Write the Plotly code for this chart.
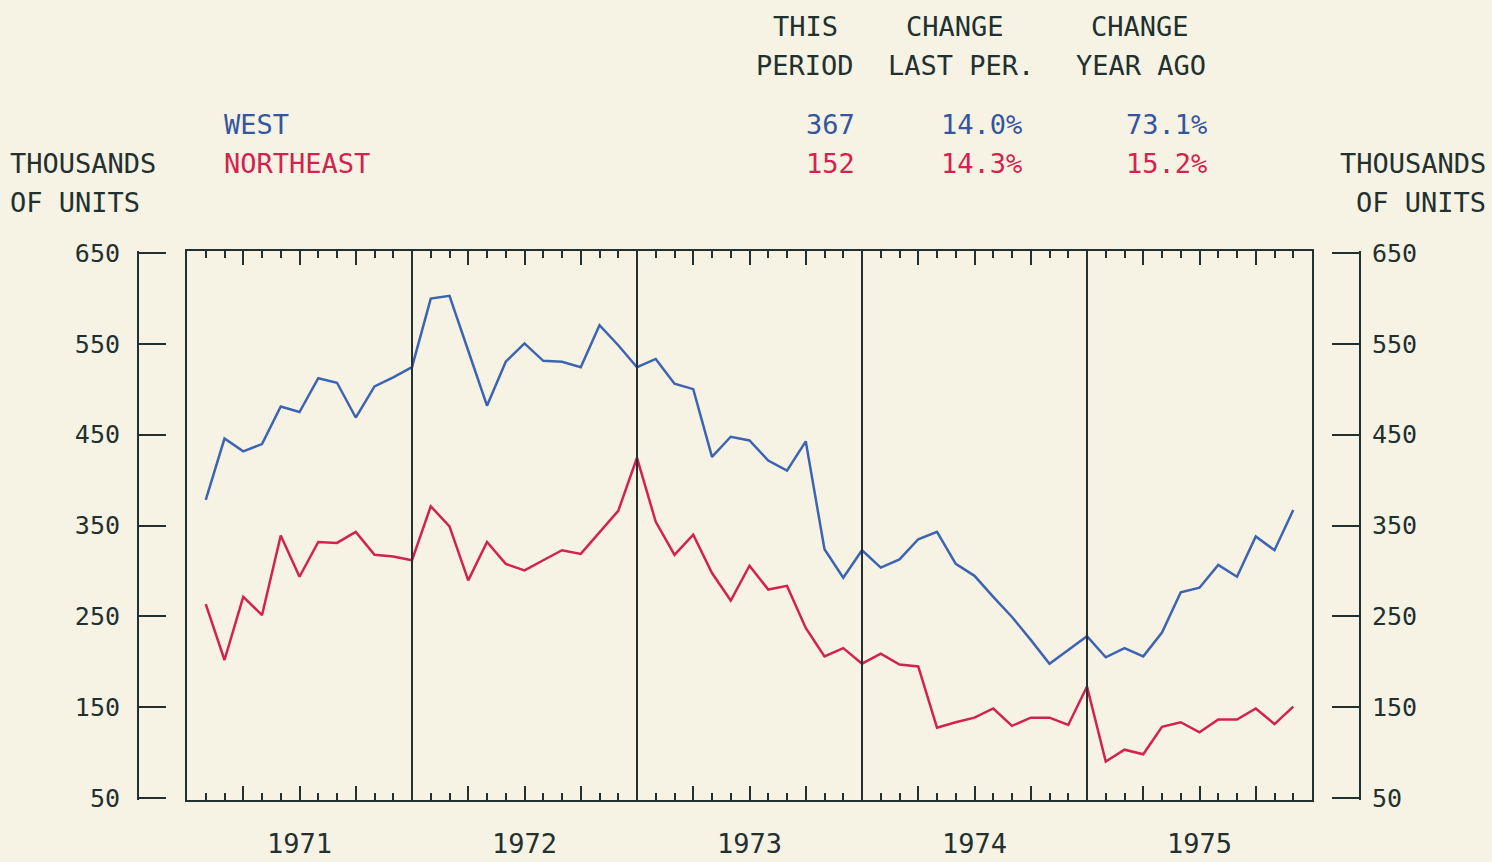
import plotly.graph_objects as go

W, H = 1492, 862

# ---- data (thousands of units), monthly Jan 1971 .. Nov 1975 ----
months = list(range(1, 60))  # month number counted from Dec 1970
west = [378, 445, 431, 439, 480, 474, 511, 506, 468, 502, 512, 523,
        598, 601, 541, 481, 529, 549, 530, 529, 523, 569, 547, 523,
        532, 505, 499, 425, 447, 443, 421, 410, 442, 324, 293, 323,
        304, 313, 335, 343, 308, 295, 272, 250, 225, 199, 214, 229,
        206, 216, 207, 233, 277, 282, 307, 294, 338, 323, 367]
northeast = [264, 203, 272, 252, 339, 294, 332, 331, 343, 318, 316, 312,
             371, 349, 290, 332, 308, 301, 312, 323, 319, 342, 366, 424,
             354, 318, 340, 298, 268, 306, 280, 284, 238, 207, 216, 199,
             210, 198, 196, 129, 135, 140, 150, 131, 140, 140, 132, 174,
             92, 105, 100, 130, 135, 124, 138, 138, 150, 133, 152]

year_labels = ["1971", "1972", "1973", "1974", "1975"]
year_centers = [6, 18, 30, 42, 54]
year_bounds = [12, 24, 36, 48]
y_ticks = [50, 150, 250, 350, 450, 550, 650]

series_names = ["WEST", "NORTHEAST"]
this_period = ["367", "152"]
change_last = ["14.0%", "14.3%"]
change_year = ["73.1%", "15.2%"]

# ---- styles ----
BG = "#f6f3e4"
DARK = "#22302f"
BLUE = "#3d63b3"
BLUE_TXT = "#3555a0"
RED = "#d3224f"
FONT = "DejaVu Sans Mono"

fig = go.Figure()
fig.add_trace(go.Scatter(x=months, y=west, mode="lines", name="WEST",
                         line=dict(color=BLUE, width=2.5)))
fig.add_trace(go.Scatter(x=months, y=northeast, mode="lines", name="NORTHEAST",
                         line=dict(color=RED, width=2.5)))
# empty carriers so the two bracket scales (left and right) get drawn
for ax in ["y2", "y3"]:
    fig.add_trace(go.Scatter(x=[None], y=[None], mode="lines", yaxis=ax,
                             showlegend=False, hoverinfo="skip"))

for b in year_bounds:
    fig.add_vline(x=b, line=dict(color=DARK, width=2))

major_vals = list(range(3, 60, 3))
major_text = [year_labels[year_centers.index(v)] if v in year_centers else "" for v in major_vals]

# bracket scales: a hair wider than the box range so the end ticks (50, 650) are kept
axis_common = dict(range=[47.8, 652.2], tickvals=y_ticks, showgrid=False, zeroline=False,
                   showline=True, linecolor=DARK, linewidth=2, automargin=False,
                   ticks="inside", ticklen=27, tickwidth=2, tickcolor=DARK,
                   tickfont=dict(family=FONT, size=25, color=DARK))

fig.update_layout(
    width=W, height=H,
    margin=dict(l=0, r=0, t=0, b=0, pad=0),
    paper_bgcolor=BG, plot_bgcolor=BG,
    showlegend=False,
    xaxis=dict(domain=[187 / W, 1312 / W], range=[0, 60], automargin=False,
               showline=True, mirror="ticks", linecolor=DARK, linewidth=2,
               showgrid=False, zeroline=False,
               tickvals=major_vals, ticktext=major_text,
               ticks="inside", ticklen=14, tickwidth=2, tickcolor=DARK,
               ticklabelstandoff=19,
               tickfont=dict(family=FONT, size=27, color=DARK),
               minor=dict(ticks="inside", ticklen=7, tickwidth=2, tickcolor=DARK,
                          tick0=0, dtick=1, showgrid=False)),
    yaxis=dict(domain=[1 - 800 / H, 1 - 251 / H], range=[50, 650], automargin=False,
               showline=True, mirror=True, linecolor=DARK, linewidth=2,
               showgrid=False, zeroline=False, ticks="", showticklabels=False),
    yaxis2=dict(overlaying="y", anchor="free", position=138 / W, side="left",
                ticklabelstandoff=12, **axis_common),
    yaxis3=dict(overlaying="y", anchor="free", position=1360 / W, side="right",
                ticklabelstandoff=6, **axis_common),
)


def note(text, px, py, anchor, color=DARK, size=27):
    fig.add_annotation(text=text, x=px / W, y=1 - py / H, xref="paper", yref="paper",
                       xanchor=anchor, yanchor="middle", showarrow=False,
                       font=dict(family=FONT, size=size, color=color))


# column headers
note("THIS", 805, 26, "center")
note("PERIOD", 805, 66, "center")
note("CHANGE", 955, 26, "center")
note("LAST PER.", 961, 66, "center")
note("CHANGE", 1140, 26, "center")
note("YEAR AGO", 1141, 66, "center")

# series rows
row_y = [125, 163]
row_col = [BLUE_TXT, RED]
for i in range(2):
    note(series_names[i], 222, row_y[i], "left", row_col[i])
    note(this_period[i], 857, row_y[i], "right", row_col[i])
    note(change_last[i], 1024, row_y[i], "right", row_col[i])
    note(change_year[i], 1209, row_y[i], "right", row_col[i])

# unit labels
note("THOUSANDS", 8, 163, "left")
note("OF UNITS", 8, 203, "left")
note("THOUSANDS", 1488, 163, "right")
note("OF UNITS", 1488, 203, "right")

fig.write_html("out.html",
               config={"displayModeBar": False},
               post_script="document.body.style.margin='0';"
                           "document.body.style.background='" + BG + "';"
                           "document.body.style.overflow='hidden';")
